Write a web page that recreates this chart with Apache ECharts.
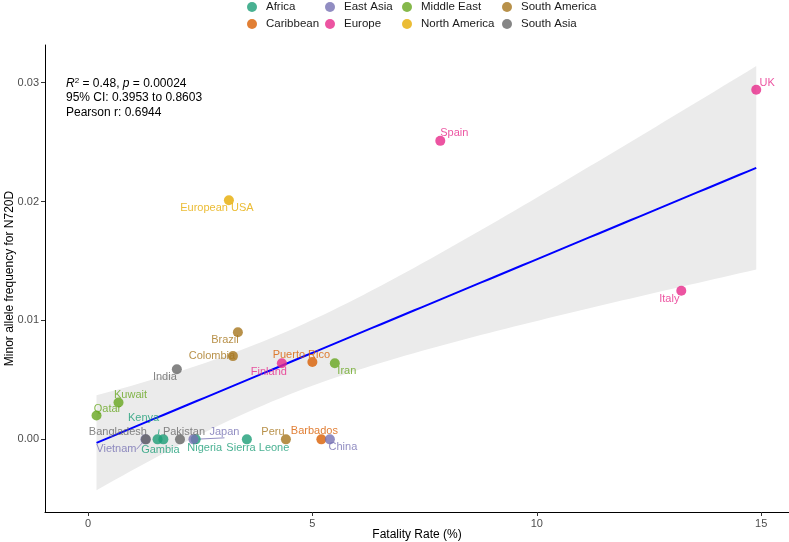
<!DOCTYPE html>
<html>
<head>
<meta charset="utf-8">
<script src="https://cdn.jsdelivr.net/npm/echarts@6/dist/echarts.min.js"></script>
<style>html,body{margin:0;padding:0;background:#fff}#c{width:789px;height:542px}</style>
</head>
<body>
<div id="c"></div>
<script>
// ---- data ----
const countries = ['UK','Spain','European USA','Italy','Brazil','Colombia','India','Puerto Rico','Finland','Iran','Kuwait','Qatar','Bangladesh','Kenya','Gambia','Pakistan','Japan','Vietnam','Nigeria','Sierra Leone','Peru','Barbados','China'];
const fatality  = [14.89, 7.85, 3.14, 13.22, 3.34, 3.23, 1.98, 5.0, 4.32, 5.5, 0.68, 0.19, 1.29, 1.55, 1.68, 2.05, 2.35, 1.28, 2.4, 3.54, 4.41, 5.2, 5.39];
const maf       = [0.0294, 0.0251, 0.0201, 0.0125, 0.0090, 0.0070, 0.0059, 0.0065, 0.0064, 0.0064, 0.0031, 0.0020, 0, 0, 0, 0, 0, 0, 0, 0, 0, 0, 0];
const region    = ['Europe','Europe','North America','Europe','South America','South America','South Asia','Caribbean','Europe','Middle East','Middle East','Middle East','South Asia','Africa','Africa','South Asia','East Asia','East Asia','Africa','Africa','South America','Caribbean','East Asia'];
const regions   = ['Africa','Caribbean','East Asia','Europe','Middle East','North America','South America','South Asia'];
const xTicks = [0, 5, 10, 15];
const yTicks = [0, 0.01, 0.02, 0.03];
// fitted linear trend as drawn in the reference (intercept, slope)
const fitCoef = [-0.00059, 0.001573];

// ---- styles ----
const colors = {'Africa':'#1B9E77','Caribbean':'#D95F02','East Asia':'#7570B3','Europe':'#E7298A','Middle East':'#66A61E','North America':'#E6AB02','South America':'#A6761D','South Asia':'#666666'};
const labelOffset = {
  'UK':[11,-7],'Spain':[14,-8],'European USA':[-12,8],'Italy':[-12,8],'Brazil':[-13,8],'Colombia':[-21,0],
  'India':[-12,8],'Puerto Rico':[-11,-7],'Finland':[-13,8.5],'Iran':[12,8],'Kuwait':[12,-8],'Qatar':[11,-7],
  'Bangladesh':[-28,-7],'Kenya':[-14,-21],'Gambia':[-3,11],'Pakistan':[4,-7],'Japan':[31,-7],'Vietnam':[-29,10],
  'Nigeria':[9,9],'Sierra Leone':[11,9],'Peru':[-13,-7],'Barbados':[-7,-8],'China':[13,8]
};
const leaders = ['Kenya','Vietnam','Japan'];

// ---- 95% confidence band around the linear fit ----
const n = fatality.length;
const xbar = fatality.reduce((a,b)=>a+b,0)/n;
let sxx=0; for (let i=0;i<n;i++){ sxx += (fatality[i]-xbar)**2; }
let sse=0; for (let i=0;i<n;i++){ sse += (maf[i]-(fitCoef[0]+fitCoef[1]*fatality[i]))**2; }
const sres = Math.sqrt(sse/(n-2));
const tCrit = 2.0796; // t(0.975, df=21)
const xmin = Math.min(...fatality), xmax = Math.max(...fatality);
const fitLine=[], upper=[], lower=[];
for (let k=0;k<80;k++){
  const x = xmin + (xmax-xmin)*k/79;
  const yh = fitCoef[0] + fitCoef[1]*x;
  const se = sres*Math.sqrt(1/n + (x-xbar)**2/sxx);
  fitLine.push([x,yh]); upper.push([x,yh+tCrit*se]); lower.push([x,yh-tCrit*se]);
}

const FONT = 'Liberation Sans, Arial, Helvetica, sans-serif';
const series = [];
series.push({
  type:'custom', silent:true, z:1, data:[[xmin, 0]],
  renderItem:function(params, api){
    const pts = upper.map(p=>api.coord(p)).concat(lower.slice().reverse().map(p=>api.coord(p)));
    return {type:'polygon', shape:{points:pts}, style:{fill:'#ebebeb'}};
  }
});
series.push({
  type:'line', data:fitLine, symbol:'none', silent:true, z:2,
  lineStyle:{color:'#0000ff', width:2}
});
regions.forEach(function(r){
  const data=[];
  for (let i=0;i<n;i++){
    if (region[i]!==r) continue;
    const item = {
      name: countries[i], value:[fatality[i], maf[i]],
      label:{show:true, formatter:countries[i], position:'inside', offset:labelOffset[countries[i]], color:colors[r], fontSize:11, fontFamily:FONT}
    };
    if (leaders.indexOf(countries[i])>=0){
      item.labelLine = {show:true, length2:0, smooth:false, lineStyle:{color:colors[r], width:0.8}};
    }
    data.push(item);
  }
  series.push({
    type:'scatter', name:r, data:data, symbol:'circle', symbolSize:10, z:3,
    itemStyle:{color:colors[r], opacity:0.8},
    emphasis:{disabled:true}
  });
});

function legendCol(left, names){
  return {
    orient:'vertical', left:left, top:1, padding:0, data:names, icon:'circle',
    itemWidth:18, itemHeight:10, itemGap:5, selectedMode:false,
    textStyle:{fontSize:11.5, color:'#1a1a1a', fontFamily:FONT}
  };
}

const chart = echarts.init(document.getElementById('c'), null, {renderer:'canvas'});
chart.setOption({
  animation:false,
  backgroundColor:'#fff',
  textStyle:{fontFamily:FONT},
  legend:[
    legendCol(247, ['Africa','Caribbean']),
    legendCol(325, ['East Asia','Europe']),
    legendCol(402, ['Middle East','North America']),
    legendCol(502, ['South America','South Asia'])
  ],
  grid:{left:45, right:0, top:45, bottom:30, containLabel:false, outerBoundsMode:'none'},
  xAxis:{
    type:'value', min:-0.958, max:15.62,
    name:'Fatality Rate (%)', nameLocation:'middle', nameGap:17, nameMoveOverlap:false,
    nameTextStyle:{fontSize:12, color:'#000', fontFamily:FONT},
    axisLine:{show:true, onZero:false, lineStyle:{color:'#000', width:1}},
    axisTick:{show:true, length:4, customValues:xTicks, lineStyle:{color:'#333'}},
    axisLabel:{customValues:xTicks, fontSize:11, color:'#4d4d4d', margin:6, fontFamily:FONT},
    splitLine:{show:false}
  },
  yAxis:{
    type:'value', min:-0.00611, max:0.03316,
    name:'Minor allele frequency for N720D', nameLocation:'middle', nameGap:29, nameRotate:90, nameMoveOverlap:false,
    nameTextStyle:{fontSize:12, color:'#000', fontFamily:FONT},
    axisLine:{show:true, onZero:false, lineStyle:{color:'#000', width:1}},
    axisTick:{show:true, length:4, customValues:yTicks, lineStyle:{color:'#333'}},
    axisLabel:{customValues:yTicks, fontSize:11, color:'#4d4d4d', margin:6, fontFamily:FONT, formatter:function(v){return v.toFixed(2);}},
    splitLine:{show:false}
  },
  graphic:[
    {type:'text', left:66, top:77, style:{text:'{i|R}{s|2} = 0.48, {i|p} = 0.00024', fontSize:12, fill:'#000', fontFamily:FONT,
      rich:{i:{fontStyle:'italic', fontSize:12, fontFamily:FONT}, s:{fontSize:8, verticalAlign:'top', padding:[0,0,5,0], fontFamily:FONT}}}},
    {type:'text', left:66, top:92, style:{text:'95% CI: 0.3953 to 0.8603', fontSize:12, fill:'#000', fontFamily:FONT}},
    {type:'text', left:66, top:107, style:{text:'Pearson r: 0.6944', fontSize:12, fill:'#000', fontFamily:FONT}}
  ],
  series:series
});
</script>
</body>
</html>
